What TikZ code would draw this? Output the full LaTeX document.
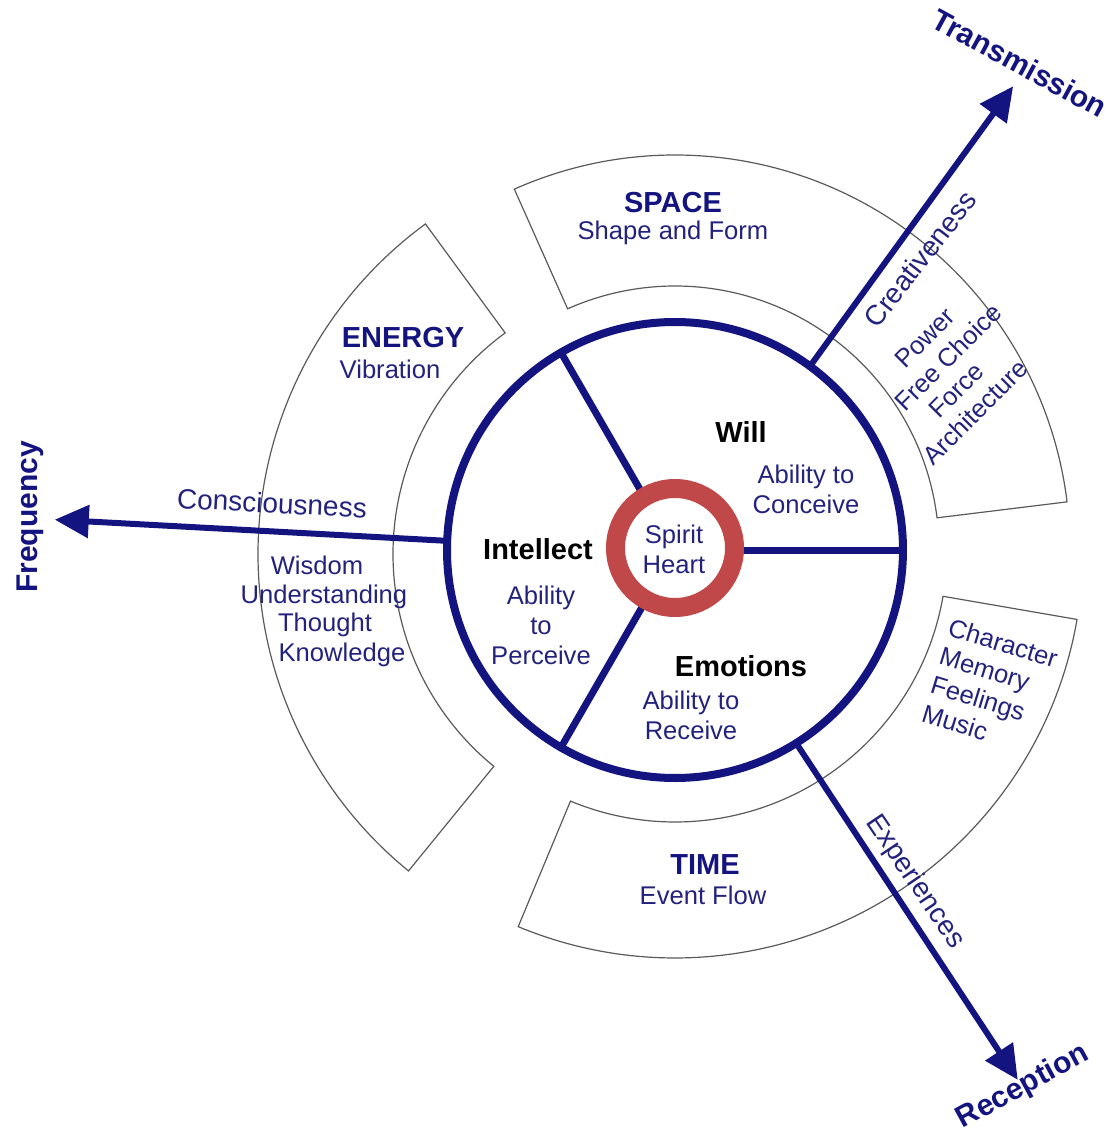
\documentclass[tikz,border=0pt]{standalone}
\usepackage{fontspec}
\setmainfont{Liberation Sans}
\usetikzlibrary{arrows.meta}
\definecolor{navy}{RGB}{20,20,128}
\definecolor{inktext}{RGB}{35,35,125}
\definecolor{ringred}{RGB}{192,72,72}
\definecolor{edge}{RGB}{90,90,90}
\tikzset{
  band/.style={draw=edge, line width=0.6pt, fill=white},
  axis/.style={draw=navy, line width=3pt, -{Triangle[length=17pt,width=16pt]}},
  spoke/.style={draw=navy, line width=3.5pt},
  head/.style={font=\fontsize{14.5}{17}\selectfont\bfseries, text=navy, inner sep=0pt},
  core/.style={font=\fontsize{14.5}{17}\selectfont\bfseries, text=black, inner sep=0pt},
  axislabel/.style={font=\fontsize{15}{18}\selectfont\bfseries, text=navy, inner sep=0pt},
  flow/.style={font=\fontsize{14}{17}\selectfont, text=inktext, inner sep=0pt},
  word/.style={font=\fontsize{12.8}{15}\selectfont, text=inktext, align=center, inner sep=0pt}
}
\begin{document}
\begin{tikzpicture}[x=0.5pt,y=0.5pt]
\useasboundingbox (-675,-585) rectangle (437,550);
% outer bands
\draw[band] (114:395) arc[start angle=114,end angle=7,radius=395] -- (7:264)
  arc[start angle=7,end angle=114,radius=264] -- cycle;
\draw[band] (-112.6:408) arc[start angle=-112.6,end angle=-9.8,radius=408] -- (-9.8:272)
  arc[start angle=-9.8,end angle=-112.6,radius=272] -- cycle;
\begin{scope}[shift={(-8,-4)}]
\draw[band] (126.2:409) arc[start angle=126.2,end angle=230.8,radius=409] -- (230.8:274)
  arc[start angle=230.8,end angle=126.2,radius=274] -- cycle;
\end{scope}

% wheel
\coordinate (hub) at (0,0);
\foreach \a/\n in {0/e,120/nw,240/sw} {
  \coordinate (in-\n) at (\a:66);
  \coordinate (rim-\n) at (\a:228);
}
\draw[spoke] (in-e) -- (rim-e);
\draw[spoke] (in-nw) -- (rim-nw);
\draw[spoke] (in-sw) -- (rim-sw);
\draw[navy, line width=4pt] (hub) circle[radius=228];
\draw[ringred, line width=9.5pt] (0,2) circle[radius=59.5];

% axes
\coordinate (freq-in) at (177.7:228);
\coordinate (freq-out) at (177.2:621);
\coordinate (trans-in) at (53.7:228);
\coordinate (trans-out) at (53.9:574);
\coordinate (recep-in) at (-57.9:228);
\coordinate (recep-out) at (-57.1:631);
\draw[axis] (freq-in) -- (freq-out);
\draw[axis] (trans-in) -- (trans-out);
\draw[axis] (recep-in) -- (recep-out);

% band texts
\node[head] (space) at (-2,347) {SPACE};
\node[word] (shape) at (-2,317) {Shape and Form};
\node[head] (energy) at (-272,212) {ENERGY};
\node[word] (vibration) at (-285,181) {Vibration};
\node[head] (time) at (30,-315) {TIME};
\node[word] (eventflow) at (28,-345) {Event Flow};
\node[word] (wisdom) at (-358,-15) {Wisdom};
\node[word] (underst) at (-351,-47) {Understanding};
\node[word] (thought) at (-350,-75) {Thought};
\node[word] (knowl) at (-333,-105) {Knowledge};
\node[word, rotate=45] (power) at (250,212) {Power};
\node[word, rotate=45] (freechoice) at (273,193) {Free Choice};
\node[word, rotate=45] (force) at (281,160) {Force};
\node[word, rotate=45] (archit) at (300,138) {Architecture};
\node[word, align=left, rotate=-17] (character) at (315,-136) {Character\\Memory\\Feelings\\Music};

% wheel texts
\node[core] (intellect) at (-137,1) {Intellect};
\node[word] (perceive) at (-134,-75) {Ability\\to\\Perceive};
\node[core] (will) at (66,118) {Will};
\node[word] (conceive) at (131,61) {Ability to\\Conceive};
\node[core] (emotions) at (66,-116) {Emotions};
\node[word] (receive) at (16,-165) {Ability to\\Receive};
\node[word] (heart) at (-1,1) {Spirit\\Heart};

% axis texts
\node[flow, rotate=-3] (consc) at (-403,47) {Consciousness};
\node[flow, rotate=52] (creat) at (245,291) {Creativeness};
\node[flow, rotate=-56] (exper) at (240,-332) {Experiences};
\node[axislabel, rotate=90] (frequency) at (-645,33) {Frequency};
\node[axislabel, rotate=-28.5] (transmission) at (345,487) {Transmission};
\node[axislabel, rotate=28.5] (reception) at (348,-537) {Reception};
\end{tikzpicture}
\end{document}
